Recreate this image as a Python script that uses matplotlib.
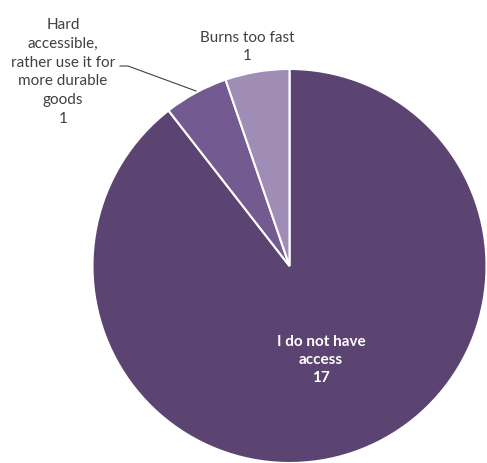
import matplotlib.pyplot as plt

# respostas da pesquisa
categorias = ['I do not have\naccess', 'Hard\naccessible,\nrather use it for\nmore durable\ngoods', 'Burns too fast']
valores = [17, 1, 1]
cores = ['#5B4471', '#735A91', '#A08DB6']

plt.rcParams['font.family'] = ['Lato', 'DejaVu Sans']

fig = plt.figure(figsize=(4.87, 4.64), dpi=100)
ax = fig.add_axes([0, 0, 1, 1])

centro = (289.5, 197)
raio = 197
ax.pie(valores, colors=cores, startangle=90, counterclock=False,
       center=centro, radius=raio, frame=True,
       wedgeprops={'edgecolor': 'white', 'linewidth': 1.5})
ax.set_xlim(0, 487)
ax.set_ylim(0, 464)
ax.set_aspect('equal')
ax.axis('off')

# rótulo dentro da fatia grande
ax.text(321, 104, f'{categorias[0]}\n{valores[0]}', ha='center', va='center',
        color='white', fontsize=11, fontweight='bold', linespacing=1.4)

# rótulos externos
ax.text(63, 392, f'{categorias[1]}\n{valores[1]}', ha='center', va='center',
        color='#404040', fontsize=11, linespacing=1.42)
ax.plot([120, 128, 196], [397, 397, 372], color='#404040', linewidth=0.8)

ax.text(247, 417, f'{categorias[2]}\n{valores[2]}', ha='center', va='center',
        color='#404040', fontsize=11, linespacing=1.42)

fig.savefig('out.png', dpi=100)
